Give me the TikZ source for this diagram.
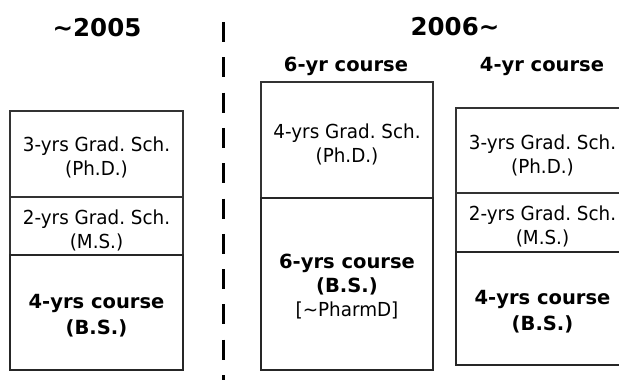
\documentclass[tikz,border=0pt]{standalone}
\usepackage{fontspec}
\setmainfont{DejaVu Sans}
\newfontfamily\boxfont[FakeStretch=0.95]{DejaVu Sans}
\begin{document}
\frenchspacing
\begin{tikzpicture}[x=1pt,y=-1pt,
  thinbox/.style={draw=black!80,line width=1.2pt},
  boldbox/.style={draw=black!85,line width=2.6pt},
  boxtext/.style={align=center,font=\boxfont\fontsize{19.3}{24}\selectfont,inner sep=0pt},
  boldtext/.style={align=center,font=\fontsize{19.5}{26}\selectfont\bfseries,inner sep=0pt},
  title/.style={font=\fontsize{24.5}{28}\selectfont\bfseries,inner sep=0pt},
  subtitle/.style={font=\fontsize{19.5}{22}\selectfont\bfseries,inner sep=0pt}]
\useasboundingbox (0,0) rectangle (619,380);

% headings
\node[title] (old) at (97,28) {\char"223C 2005};
\node[title] (new) at (455,27) {2006\char"223C};
\node[subtitle] (six) at (346,66) {6-yr course};
\node[subtitle] (four) at (542,66) {4-yr course};

% dividing line
\coordinate (dtop) at (223,22);
\coordinate (dbot) at (223,382);
\draw[line width=3pt,dash pattern=on 20pt off 15.3pt] (dtop) -- (dbot);

% until 2005
\draw[thinbox] (10,111) rectangle (183,197);
\draw[thinbox] (10,197) rectangle (183,255);
\draw[boldbox] (10,255) rectangle (183,370);
\node[boxtext] (a1) at (96.5,157) {3-yrs Grad. Sch.\\(Ph.D.)};
\node[boxtext] (a2) at (96.5,230) {2-yrs Grad. Sch.\\(M.S.)};
\node[boldtext] (a3) at (96.5,316) {4-yrs course\\(B.S.)};

% from 2006: 6-year course
\draw[thinbox] (261,82) rectangle (433,198);
\draw[boldbox] (261,198) rectangle (433,370);
\node[boxtext] (b1) at (347,144) {4-yrs Grad. Sch.\\(Ph.D.)};
\node[boxtext] (b2) at (347,287)
  {{\normalfont\fontsize{19.5}{25}\selectfont\bfseries 6-yrs course}\\{\normalfont\fontsize{19.5}{25}\selectfont\bfseries (B.S.)}\\{}[\char"223C PharmD]};

% from 2006: 4-year course
\draw[thinbox] (456,108) rectangle (629,193);
\draw[thinbox] (456,193) rectangle (629,252);
\draw[boldbox] (456,252) rectangle (629,365);
\node[boxtext] (c1) at (542.5,155) {3-yrs Grad. Sch.\\(Ph.D.)};
\node[boxtext] (c2) at (542.5,226) {2-yrs Grad. Sch.\\(M.S.)};
\node[boldtext] (c3) at (542.5,312) {4-yrs course\\(B.S.)};
\end{tikzpicture}
\end{document}
